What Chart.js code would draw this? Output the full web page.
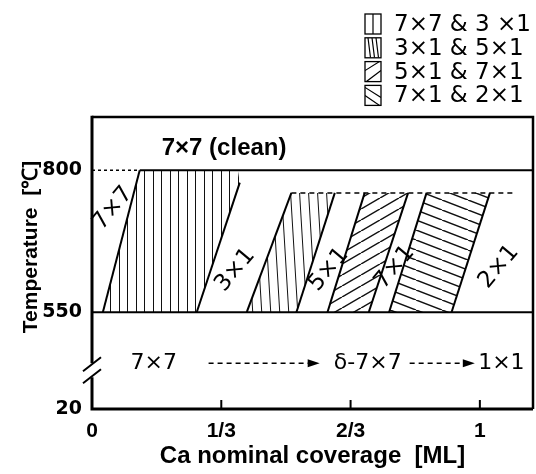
<!DOCTYPE html>
<html><head><meta charset="utf-8">
<script src="https://cdn.jsdelivr.net/npm/chart.js@4.4.0/dist/chart.umd.min.js"></script>
<style>html,body{margin:0;padding:0;background:#fff}#wrap{width:536px;height:474px;position:relative}</style>
</head><body><div id="wrap"><canvas id="c" width="536" height="474"></canvas></div>
<script>
// ---------- axis definition ----------
const xTickValues = [0, 1/3, 2/3, 1];
const xTickLabels = ['0', '1/3', '2/3', '1'];
const yTickValues = [20, 550, 800];
const yTickLabels = ['20', '550', '800'];
const xMin = 0, xMax = 1.137;
const yMin = 20, yMax = 893.6;
const yBreakAt = 550;          // temperature below which the axis is compressed
const yLowFactor = 0.3215;     // compression of the 20..550 part

// ---------- phase-region polygons [coverage ML, temperature °C] ----------
const region77_31 = [[0.028,550],[0.123,800],[0.376,800],[0.381,778],[0.270,550]];
const region31_51 = [[0.399,550],[0.514,760],[0.626,760],[0.527,550]];
const region51_71 = [[0.607,550],[0.703,760],[0.815,760],[0.7135,550]];
const region71_21 = [[0.766,550],[0.8625,760],[1.026,760],[0.927,550]];

// ---------- phase boundaries ----------
const boundary1 = [[0.028,550],[0.123,800]];
const boundary2 = [[0.270,550],[0.381,778]];
const boundary3 = [[0.399,550],[0.514,760]];
const boundary4 = [[0.527,550],[0.626,760]];
const boundary5 = [[0.607,550],[0.703,760]];
const boundary6 = [[0.7135,550],[0.815,760]];
const boundary7 = [[0.766,550],[0.8625,760]];
const boundary8 = [[0.927,550],[1.026,760]];
const line800Solid = [[0.123,800],[1.137,800]];
const line800Dashed = [[0,800],[0.123,800]];
const line550 = [[0,550],[1.137,550]];
const line760Dashed = [[0.514,760],[1.090,760]];

// ---------- texts ----------
const cleanLabel = '7×7 (clean)', cleanX = 0.3406, cleanT = 838;
const regionLabels = ['7×7', '3×1', '5×1', '7×1', '2×1'];
const regionLabelX = [0.054, 0.3695, 0.6103, 0.7806, 1.049];
const regionLabelT = [733, 624, 625, 629, 630];
const lowLabels = ['7×7', 'δ-7×7', '1×1'];
const lowLabelX = [0.159, 0.711, 1.0555];
const lowLabelT = 270;
const arrowFromX = [0.3006, 0.819];
const arrowToX = [0.587, 0.987];
const legendLabels = ['7×7 & 3 ×1', '3×1 & 5×1', '5×1 & 7×1', '7×1 & 2×1'];
const xTitle = 'Ca nominal coverage  [ML]';
const yTitle = 'Temperature  [℃]';

// ---------- helpers ----------
function disp(t) { return t >= yBreakAt ? t : yBreakAt - (yBreakAt - t) * yLowFactor; }
const toPt = p => ({x: p[0], y: disp(p[1])});

function makePattern(W, H, draw) {
  const c = document.createElement('canvas');
  c.width = W; c.height = H;
  const g = c.getContext('2d');
  g.strokeStyle = '#111'; g.fillStyle = '#111';
  draw(g, W, H);
  return g.createPattern(c, 'repeat');
}
function segs(g, list, lw) {
  g.lineWidth = lw; g.beginPath();
  list.forEach(s => { g.moveTo(s[0], s[1]); g.lineTo(s[2], s[3]); });
  g.stroke();
}
const patVertical = makePattern(17, 4, (g, W, H) => { g.fillRect(0, 0, 1, H); g.fillRect(8, 0, 1, H); });
const patTilted = makePattern(9, 150, (g, W, H) => segs(g, [[0,0,W,H],[-W,0,0,H],[W,0,2*W,H]], 1));
const patSlash = makePattern(19, 11, (g, W, H) => segs(g, [[0,H,W,0],[-W,H,0,0],[W,H,2*W,0]], 1.5));
const patBack = makePattern(26, 10, (g, W, H) => segs(g, [[0,0,W,H],[-W,0,0,H],[W,0,2*W,H]], 1.5));

function polyDS(label, pts, pat) {
  return {label, data: pts.map(toPt), showLine: true, fill: 'shape', backgroundColor: pat,
    borderColor: 'rgba(0,0,0,0)', borderWidth: 0, pointRadius: 0, tension: 0, order: 3};
}
function lineDS(label, pts, extra) {
  return Object.assign({label, data: pts.map(toPt), showLine: true, fill: false,
    borderColor: '#000', borderWidth: 2, pointRadius: 0, tension: 0, order: 1}, extra || {});
}

const datasets = [
  polyDS('7×7 & 3×1', region77_31, patVertical),
  polyDS('3×1 & 5×1', region31_51, patTilted),
  polyDS('5×1 & 7×1', region51_71, patSlash),
  polyDS('7×1 & 2×1', region71_21, patBack),
  lineDS('b1', boundary1), lineDS('b2', boundary2), lineDS('b3', boundary3), lineDS('b4', boundary4),
  lineDS('b5', boundary5), lineDS('b6', boundary6), lineDS('b7', boundary7), lineDS('b8', boundary8),
  lineDS('800', line800Solid),
  lineDS('800d', line800Dashed, {borderDash: [3, 3], borderWidth: 1.5}),
  lineDS('550', line550),
  lineDS('760d', line760Dashed, {borderDash: [5, 4], borderWidth: 1.5})
];

const decor = {
  id: 'decor',
  afterDatasetsDraw(chart) {
    const {ctx, chartArea: a, scales: {x, y}} = chart;
    const X = v => x.getPixelForValue(v);
    const Y = t => y.getPixelForValue(disp(t));
    ctx.save();
    ctx.fillStyle = '#000'; ctx.strokeStyle = '#000';
    // frame
    const yb = Y(550) + (a.bottom - Y(550)) * 0.6;
    ctx.lineWidth = 2.5;
    ctx.beginPath(); ctx.moveTo(a.left, a.top); ctx.lineTo(a.right, a.top); ctx.lineTo(a.right, a.bottom); ctx.stroke();
    ctx.lineWidth = 3;
    ctx.beginPath(); ctx.moveTo(a.right, a.bottom); ctx.lineTo(a.left, a.bottom);
    ctx.lineTo(a.left, yb + 7); ctx.moveTo(a.left, yb - 7); ctx.lineTo(a.left, a.top - 1.2); ctx.stroke();
    // axis break marks
    ctx.lineWidth = 2;
    ctx.beginPath();
    ctx.moveTo(a.left - 9, yb + 1); ctx.lineTo(a.left + 9, yb - 13);
    ctx.moveTo(a.left - 9, yb + 13); ctx.lineTo(a.left + 9, yb - 1);
    ctx.stroke();
    // inward x tick marks
    ctx.lineWidth = 2;
    xTickValues.slice(1).forEach(v => { ctx.beginPath(); ctx.moveTo(X(v), a.bottom); ctx.lineTo(X(v), a.bottom - 9); ctx.stroke(); });
    // texts
    ctx.textAlign = 'center'; ctx.textBaseline = 'middle';
    ctx.font = 'bold 24px "Liberation Sans", Arial, sans-serif';
    ctx.fillText(cleanLabel, X(cleanX), Y(cleanT));
    ctx.font = '23px "DejaVu Sans", sans-serif';
    regionLabels.forEach((s, i) => {
      ctx.save(); ctx.translate(X(regionLabelX[i]), Y(regionLabelT[i])); ctx.rotate(-50 * Math.PI / 180);
      ctx.fillText(s, 0, 0); ctx.restore();
    });
    ctx.font = '22px "DejaVu Sans", sans-serif';
    lowLabels.forEach((s, i) => ctx.fillText(s, X(lowLabelX[i]), Y(lowLabelT)));
    // arrows
    const ya = Y(lowLabelT);
    arrowFromX.forEach((fx, i) => {
      const x0 = X(fx), x1 = X(arrowToX[i]);
      ctx.lineWidth = 1.5; ctx.setLineDash([5, 4]);
      ctx.beginPath(); ctx.moveTo(x0, ya); ctx.lineTo(x1 - 10, ya); ctx.stroke();
      ctx.setLineDash([]);
      ctx.beginPath(); ctx.moveTo(x1, ya); ctx.lineTo(x1 - 12, ya - 4); ctx.lineTo(x1 - 12, ya + 4); ctx.closePath(); ctx.fill();
    });
    // y title
    ctx.save(); ctx.translate(31, 247); ctx.rotate(-Math.PI / 2);
    ctx.font = 'bold 21px "Liberation Sans", Arial, sans-serif';
    ctx.fillText(yTitle, 0, 0); ctx.restore();
    // legend
    const bx = 365, bw = 16, bh = 20;
    ctx.textAlign = 'left';
    ctx.font = '23px "DejaVu Sans", sans-serif';
    legendLabels.forEach((s, i) => {
      const by = 14 + 23.8 * i;
      ctx.lineWidth = 1.3;
      ctx.strokeRect(bx, by, bw, bh);
      ctx.save(); ctx.beginPath(); ctx.rect(bx, by, bw, bh); ctx.clip();
      ctx.lineWidth = 1.2; ctx.beginPath();
      if (i === 0) { ctx.moveTo(bx + 8, by); ctx.lineTo(bx + 8, by + bh); }
      if (i === 1) { [4, 8, 12].forEach(d => { ctx.moveTo(bx + d - 1, by); ctx.lineTo(bx + d + 1.5, by + bh); }); }
      if (i === 2) { ctx.moveTo(bx, by + 9); ctx.lineTo(bx + bw, by - 1); ctx.moveTo(bx, by + bh + 1); ctx.lineTo(bx + bw, by + 9); }
      if (i === 3) { ctx.moveTo(bx, by + 2); ctx.lineTo(bx + bw, by + 12); ctx.moveTo(bx, by + 10); ctx.lineTo(bx + bw, by + bh + 1); }
      ctx.stroke(); ctx.restore();
      ctx.fillText(s, 394, by + bh / 2 + 1);
    });
    ctx.restore();
  }
};

new Chart(document.getElementById('c'), {
  type: 'scatter',
  data: {datasets},
  options: {
    responsive: false, animation: false, devicePixelRatio: 1,
    layout: {padding: {top: 117, right: 3, left: 0, bottom: 0}},
    plugins: {legend: {display: false}, tooltip: {enabled: false}},
    scales: {
      x: {
        type: 'linear', min: xMin, max: xMax,
        afterFit: s => { s.height = 65; },
        afterBuildTicks: s => { s.ticks = xTickValues.map(v => ({value: v})); },
        grid: {display: false, drawTicks: false}, border: {display: false},
        ticks: {autoSkip: false, maxRotation: 0, padding: 10, color: '#000',
          font: {family: '"Liberation Sans", Arial, sans-serif', size: 21, weight: 'bold'},
          callback: (v, i) => xTickLabels[i]},
        title: {display: true, text: xTitle, color: '#000', padding: {top: 0, bottom: 3},
          font: {family: '"Liberation Sans", Arial, sans-serif', size: 24, weight: 'bold'}}
      },
      y: {
        type: 'linear', min: disp(yMin), max: yMax,
        afterFit: s => { s.width = 92; },
        afterBuildTicks: s => { s.ticks = yTickValues.map(v => ({value: disp(v)})); },
        grid: {display: false, drawTicks: false}, border: {display: false},
        ticks: {autoSkip: false, padding: 10, color: '#000',
          font: {family: '"DejaVu Sans", sans-serif', size: 19, weight: 'bold'},
          callback: (v, i) => yTickLabels[i]}
      }
    }
  },
  plugins: [decor]
});
</script></body></html>
